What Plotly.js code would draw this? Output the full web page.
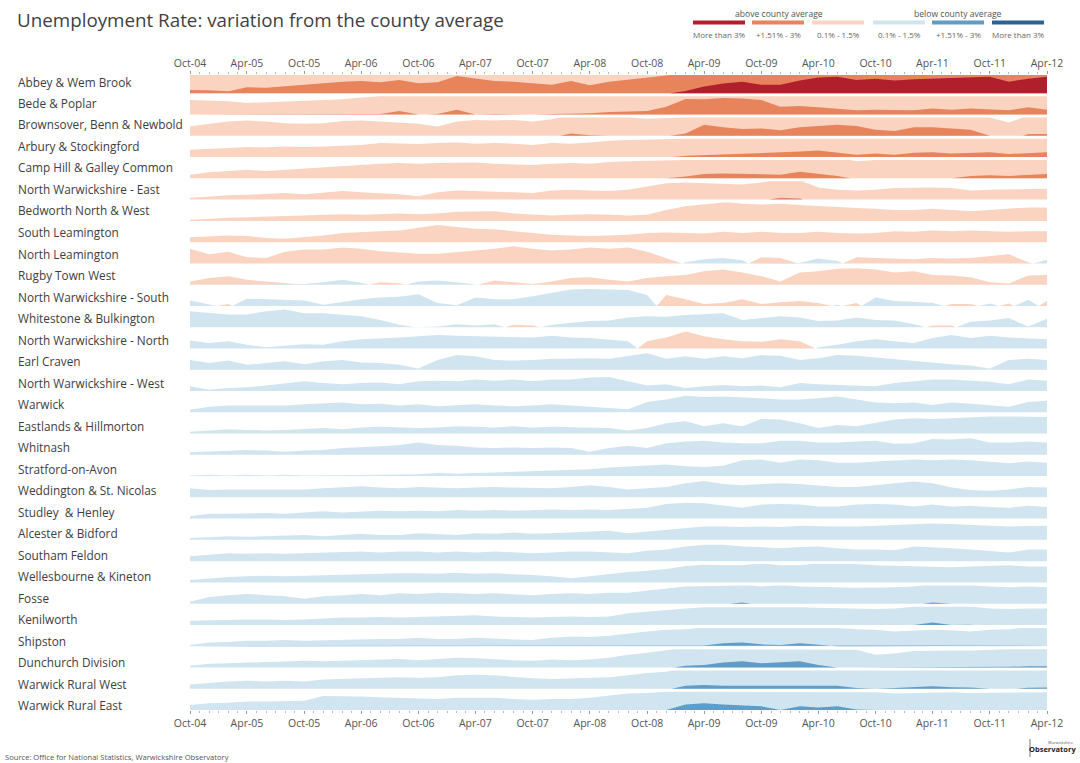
<!DOCTYPE html>
<html><head><meta charset="utf-8">
<script src="https://cdn.plot.ly/plotly-3.0.1.min.js"></script>
<style>html,body{margin:0;padding:0;background:#fff;}#chart{width:1080px;height:763px;}</style>
</head><body><div id="chart"></div>
<script>
// Sample dates (every second month)
const periods = ['2004-10-01','2004-12-01','2005-02-01','2005-04-01','2005-06-01','2005-08-01','2005-10-01','2005-12-01','2006-02-01','2006-04-01','2006-06-01','2006-08-01','2006-10-01','2006-12-01','2007-02-01','2007-04-01','2007-06-01','2007-08-01','2007-10-01','2007-12-01','2008-02-01','2008-04-01','2008-06-01','2008-08-01','2008-10-01','2008-12-01','2009-02-01','2009-04-01','2009-06-01','2009-08-01','2009-10-01','2009-12-01','2010-02-01','2010-04-01','2010-06-01','2010-08-01','2010-10-01','2010-12-01','2011-02-01','2011-04-01','2011-06-01','2011-08-01','2011-10-01','2011-12-01','2012-02-01','2012-04-01'];

const wards = ['Abbey & Wem Brook','Bede & Poplar','Brownsover, Benn & Newbold','Arbury & Stockingford','Camp Hill & Galley Common','North Warwickshire - East','Bedworth North & West','South Leamington','North Leamington','Rugby Town West','North Warwickshire - South','Whitestone & Bulkington','North Warwickshire - North','Earl Craven','North Warwickshire - West','Warwick','Eastlands & Hillmorton','Whitnash','Stratford-on-Avon','Weddington & St. Nicolas','Studley  & Henley','Alcester & Bidford','Southam Feldon','Wellesbourne & Kineton','Fosse','Kenilworth','Shipston','Dunchurch Division','Warwick Rural West','Warwick Rural East'];

// Variation from county average, percentage points (positive = above)
const abbey = [1.77,1.75,1.66,1.99,1.96,2.1,2.2,2.32,2.45,2.5,2.4,2.6,2.32,2.4,2.92,2.73,2.5,2.45,2.3,2.2,2.5,2.15,2.45,2.6,2.75,2.95,3.19,3.55,3.8,3.95,3.7,3.7,4.05,4.3,4.35,4.1,4.2,4.05,4.15,4.2,4.3,4.3,4.35,3.95,4.2,4.35];
const bede = [1.2,1.15,1.1,0.95,1.0,1.1,1.15,1.2,1.25,1.4,1.55,1.8,1.45,1.55,1.9,1.5,1.55,1.5,1.5,1.55,1.55,1.6,1.7,1.75,1.8,2.15,2.78,2.75,2.86,2.82,2.7,2.15,2.2,2.1,1.97,1.85,1.9,1.9,1.85,2.0,1.9,2.0,1.95,1.85,2.1,1.9];
const brownsover = [0.76,1.0,1.17,1.25,1.17,1.03,1.0,1.03,1.22,1.25,1.17,1.1,1.0,0.76,1.17,1.3,1.25,1.3,1.17,1.35,1.7,1.55,1.5,1.5,1.4,1.45,1.7,2.4,2.2,2.05,2.1,1.95,2.2,2.3,2.4,2.3,2.0,1.9,2.2,2.2,2.1,2.0,1.5,1.1,1.65,1.65];
const arbury = [0.6,0.65,0.75,0.82,0.8,0.87,0.82,0.87,0.93,1.0,1.15,1.1,1.07,1.15,1.2,1.1,1.15,1.1,1.0,1.15,1.1,1.2,1.35,1.4,1.45,1.45,1.6,1.65,1.75,1.8,1.85,1.9,1.95,2.05,1.9,1.7,1.8,1.7,1.85,1.9,1.8,1.85,1.9,1.75,1.8,1.9];
const campHill = [0.3,0.5,0.6,0.7,0.6,0.7,0.85,0.95,1.0,1.1,1.2,1.25,1.2,1.25,1.25,1.3,1.2,1.15,1.1,1.2,1.25,1.2,1.35,1.4,1.45,1.5,1.65,1.85,1.9,1.85,1.8,1.8,2.05,1.9,1.7,1.4,1.5,1.55,1.5,1.5,1.5,1.7,1.75,1.7,1.8,1.85];
const nwEast = [0.15,0.27,0.35,0.4,0.45,0.55,0.45,0.6,0.7,0.6,0.55,0.45,0.27,0.6,0.75,0.7,0.6,0.55,0.55,0.75,0.8,0.75,0.7,0.8,1.1,1.35,1.4,1.35,1.3,1.25,1.4,1.65,1.6,1.0,0.8,0.75,0.8,0.95,1.0,1.0,0.95,0.75,0.8,0.85,0.9,0.9];
const bedworth = [0.1,0.2,0.25,0.3,0.35,0.4,0.45,0.5,0.55,0.5,0.55,0.6,0.55,0.6,0.75,0.75,0.8,0.6,0.5,0.45,0.5,0.55,0.5,0.45,0.5,0.9,1.2,1.35,1.55,1.4,1.35,1.4,1.3,1.2,1.1,1.05,1.0,0.9,0.9,1.0,0.9,0.8,0.9,1.0,1.1,1.1];
const southLeam = [0.4,0.5,0.55,0.5,0.35,0.27,0.4,0.55,0.75,0.85,0.9,0.95,1.2,1.4,1.25,1.1,1.05,0.9,0.75,0.6,0.55,0.5,0.55,0.6,0.75,0.8,0.75,0.7,0.85,0.75,0.85,0.75,0.75,0.85,0.75,0.7,0.75,0.9,0.85,0.95,0.9,0.95,0.9,0.85,0.9,0.9];
const northLeam = [1.2,0.75,0.95,0.5,0.45,0.95,1.15,1.15,1.3,1.2,1.0,0.9,0.8,0.8,0.9,1.05,1.2,1.4,1.2,1.05,1.15,1.3,1.2,1.3,0.95,0.45,-0.1,-0.35,-0.45,-0.25,0.5,0.45,-0.05,-0.4,-0.2,0.5,0.45,0.45,0.35,0.45,0.4,0.45,0.6,0.75,0.1,-0.3];
const rugbyWest = [0.27,0.55,0.7,0.4,0.27,0.12,-0.05,-0.2,-0.4,-0.15,0.2,0.12,-0.27,-0.35,-0.2,-0.05,0.35,0.2,0.05,0.27,0.55,0.6,0.4,0.27,0.55,0.7,0.8,1.1,1.25,1.0,0.7,0.27,1.0,1.1,1.3,1.35,1.25,1.0,1.1,0.8,0.75,0.6,0.2,0.1,0.75,0.8];
const nwSouth = [-0.45,-0.1,0.15,-0.6,-0.55,-0.55,-0.45,-0.1,-0.35,-0.55,-0.7,-0.75,-0.95,-0.25,-0.05,-0.7,-0.55,-0.55,-0.8,-1.1,-1.35,-1.4,-1.35,-1.3,-0.9,0.9,0.55,0.15,0.25,0.55,0.15,0.3,0.4,0.25,-0.1,0.25,-0.7,-0.4,-0.35,-0.25,0.15,0.15,-0.2,0.2,-0.5,0.4];
const whitestone = [-1.3,-1.15,-1.05,-1.05,-1.3,-1.45,-1.15,-1.15,-1.05,-0.9,-0.6,-0.2,0.05,-0.05,-0.25,-0.15,-0.25,0.2,0.15,-0.2,-0.35,-0.5,-0.55,-0.8,-0.9,-0.85,-1.0,-1.05,-1.15,-0.6,-0.75,-0.9,-0.8,-0.5,-0.55,-0.8,-0.6,-0.55,-0.25,0.15,0.15,-0.45,-0.55,-0.75,-0.05,-0.7];
const nwNorth = [-0.65,-0.45,-0.6,-0.3,-0.1,-0.2,-0.35,-0.3,-0.6,-0.75,-0.8,-0.9,-1.0,-1.1,-1.05,-1.0,-1.0,-0.9,-0.9,-1.05,-0.9,-0.85,-0.75,-0.6,0.6,0.9,1.4,1.0,0.75,0.6,0.55,0.75,0.6,-0.1,-0.3,-0.6,-0.75,-0.6,-0.45,-0.85,-1.1,-0.85,-1.05,-0.9,-0.8,-0.75];
const earlCraven = [-0.8,-0.55,-0.75,-0.4,-0.55,-0.7,-0.45,-0.7,-0.8,-0.6,-0.55,-0.4,-0.1,-0.8,-1.2,-1.1,-0.8,-0.75,-0.8,-0.9,-0.9,-0.95,-0.9,-1.1,-1.35,-0.9,-1.1,-0.9,-1.1,-0.95,-1.2,-1.15,-0.8,-0.95,-1.2,-1.15,-1.0,-0.9,-0.75,-0.6,-0.45,-0.35,-0.1,-0.8,-0.9,-0.8];
const nwWest = [-0.4,-0.1,-0.25,-0.3,-0.45,-0.65,-0.8,-0.65,-0.55,-0.65,-0.7,-0.55,-0.8,-0.85,-0.8,-0.95,-0.85,-0.95,-0.8,-0.95,-0.95,-1.1,-1.15,-0.8,-0.45,-0.55,-0.25,-0.4,-0.5,-0.4,-0.45,-0.3,-0.65,-0.55,-0.5,-0.4,-0.4,-0.65,-0.8,-0.95,-0.95,-0.85,-0.75,-0.55,-0.95,-0.85];
const warwick = [-0.2,-0.45,-0.55,-0.55,-0.5,-0.55,-0.65,-0.75,-0.8,-0.65,-0.7,-0.55,-0.65,-0.5,-0.55,-0.65,-0.55,-0.5,-0.55,-0.65,-0.55,-0.45,-0.4,-0.25,-0.85,-1.05,-1.35,-1.25,-1.3,-1.25,-1.15,-1.05,-1.05,-1.15,-1.3,-1.05,-0.8,-0.75,-0.8,-0.6,-0.8,-0.7,-0.6,-0.45,-0.85,-0.95];
const eastlands = [-0.15,-0.25,-0.35,-0.3,-0.25,-0.3,-0.35,-0.45,-0.35,-0.5,-0.55,-0.5,-0.45,-0.5,-0.6,-0.55,-0.5,-0.6,-0.5,-0.55,-0.5,-0.45,-0.45,-0.25,-0.45,-0.85,-1.0,-0.6,-0.85,-0.6,-1.2,-1.15,-0.85,-0.45,-0.7,-0.6,-0.85,-1.15,-1.25,-1.2,-1.25,-1.35,-1.4,-1.4,-1.4,-1.35];
const whitnash = [-0.2,-0.25,-0.35,-0.4,-0.35,-0.25,-0.35,-0.4,-0.55,-0.6,-0.7,-0.8,-1.0,-0.8,-0.75,-0.6,-0.55,-0.6,-0.55,-0.6,-0.55,-0.25,-0.55,-0.75,-0.55,-0.95,-1.1,-1.15,-1.0,-0.95,-0.95,-1.15,-1.15,-1.0,-1.0,-1.1,-1.15,-0.9,-0.95,-1.3,-1.25,-1.35,-1.0,-1.0,-1.1,-1.0];
const stratford = [-0.05,-0.1,-0.05,-0.1,-0.05,-0.1,-0.05,-0.05,-0.1,-0.05,-0.1,-0.12,-0.15,-0.25,-0.2,-0.25,-0.3,-0.35,-0.37,-0.42,-0.5,-0.55,-0.7,-0.8,-0.85,-0.95,-0.8,-0.75,-0.85,-1.3,-1.35,-1.1,-1.35,-1.3,-1.1,-1.1,-1.2,-1.3,-1.35,-1.3,-1.35,-1.3,-1.2,-1.05,-1.2,-1.1];
const weddington = [-0.75,-0.6,-0.65,-0.65,-0.6,-0.65,-0.65,-0.75,-0.85,-0.9,-0.8,-0.75,-0.85,-0.8,-0.75,-0.8,-0.85,-0.8,-0.75,-0.75,-0.85,-1.0,-0.85,-0.65,-0.75,-0.85,-1.15,-1.35,-1.1,-1.0,-1.1,-1.15,-1.1,-1.0,-0.85,-0.85,-1.0,-1.1,-1.3,-1.15,-0.8,-0.6,-0.55,-0.65,-0.85,-0.8];
const studley = [-0.2,-0.4,-0.4,-0.45,-0.45,-0.4,-0.5,-0.6,-0.5,-0.6,-0.65,-0.6,-0.65,-0.6,-0.7,-0.65,-0.7,-0.65,-0.7,-0.75,-0.7,-0.75,-0.7,-0.8,-0.9,-1.2,-1.3,-1.25,-1.1,-0.9,-1.15,-1.2,-1.15,-1.0,-1.0,-1.15,-1.2,-1.15,-1.0,-1.15,-1.0,-1.05,-0.95,-0.9,-1.05,-0.95];
const alcester = [-0.15,-0.25,-0.3,-0.25,-0.3,-0.3,-0.4,-0.3,-0.4,-0.5,-0.4,-0.4,-0.55,-0.5,-0.4,-0.55,-0.5,-0.6,-0.5,-0.55,-0.6,-0.65,-0.75,-0.55,-0.7,-0.85,-1.0,-1.1,-1.1,-1.05,-1.1,-1.05,-1.15,-1.1,-1.1,-1.1,-1.15,-1.2,-1.3,-1.35,-1.3,-1.2,-1.15,-1.1,-1.15,-1.15];
const southam = [-0.4,-0.5,-0.65,-0.6,-0.65,-0.6,-0.65,-0.7,-0.8,-0.8,-0.7,-0.8,-0.8,-0.7,-0.8,-0.7,-0.8,-0.7,-0.65,-0.7,-0.8,-0.8,-0.7,-0.65,-0.85,-0.95,-1.2,-1.35,-1.35,-1.2,-1.15,-1.05,-1.15,-1.2,-1.05,-0.95,-0.95,-0.9,-1.2,-1.15,-1.05,-0.95,-0.85,-0.7,-0.95,-0.95];
const wellesbourne = [-0.2,-0.35,-0.45,-0.5,-0.55,-0.5,-0.55,-0.6,-0.6,-0.7,-0.7,-0.75,-0.75,-0.7,-0.8,-0.7,-0.75,-0.7,-0.6,-0.5,-0.35,-0.5,-0.7,-0.85,-0.95,-1.1,-1.35,-1.45,-1.4,-1.4,-1.55,-1.4,-1.4,-1.55,-1.52,-1.5,-1.4,-1.35,-1.3,-1.3,-1.25,-1.3,-1.35,-1.4,-1.3,-1.3];
const fosse = [-0.15,-0.55,-0.7,-0.8,-0.7,-0.6,-0.4,-0.6,-0.7,-0.8,-0.7,-0.85,-0.8,-0.9,-0.85,-0.8,-0.85,-0.8,-0.7,-0.8,-0.85,-0.8,-0.9,-0.9,-1.1,-1.25,-1.4,-1.45,-1.45,-1.6,-1.4,-1.55,-1.4,-1.4,-1.35,-1.3,-1.3,-1.35,-1.4,-1.6,-1.45,-1.52,-1.4,-1.35,-1.4,-1.35];
const kenilworth = [-0.35,-0.4,-0.45,-0.45,-0.45,-0.4,-0.45,-0.55,-0.6,-0.6,-0.65,-0.6,-0.65,-0.7,-0.7,-0.8,-0.7,-0.65,-0.6,-0.65,-0.7,-0.65,-0.7,-0.95,-1.1,-1.25,-1.35,-1.45,-1.45,-1.5,-1.55,-1.55,-1.45,-1.4,-1.35,-1.3,-1.3,-1.35,-1.5,-1.7,-1.5,-1.52,-1.35,-1.3,-1.35,-1.35];
const shipston = [-0.1,-0.3,-0.35,-0.45,-0.45,-0.5,-0.45,-0.5,-0.55,-0.55,-0.6,-0.6,-0.7,-0.6,-0.6,-0.7,-0.6,-0.55,-0.5,-0.7,-0.8,-0.75,-0.85,-1.05,-1.2,-1.35,-1.4,-1.55,-1.75,-1.8,-1.65,-1.6,-1.75,-1.65,-1.5,-1.4,-1.35,-1.2,-1.3,-1.35,-1.3,-1.2,-1.35,-1.4,-1.55,-1.55];
const dunchurch = [-0.15,-0.3,-0.35,-0.4,-0.5,-0.5,-0.55,-0.5,-0.55,-0.6,-0.65,-0.7,-0.6,-0.7,-0.8,-0.75,-0.65,-0.6,-0.55,-0.65,-0.6,-0.65,-0.8,-1.05,-1.2,-1.4,-1.65,-1.7,-1.9,-2.0,-1.85,-1.9,-2.0,-1.7,-1.5,-1.45,-1.05,-1.15,-1.35,-1.4,-1.4,-1.4,-1.45,-1.55,-1.6,-1.6];
const ruralWest = [-0.35,-0.5,-0.6,-0.65,-0.6,-0.65,-0.6,-0.75,-0.8,-0.85,-0.9,-0.95,-0.9,-0.95,-1.1,-1.15,-1.1,-0.95,-0.85,-0.8,-0.85,-0.9,-0.95,-1.1,-1.3,-1.4,-1.75,-1.8,-1.75,-1.75,-1.75,-1.75,-1.8,-1.8,-1.75,-1.55,-1.5,-1.55,-1.62,-1.7,-1.62,-1.6,-1.5,-1.45,-1.58,-1.6];
const ruralEast = [-0.4,-0.55,-0.6,-0.7,-0.7,-0.75,-0.75,-1.15,-1.15,-1.1,-1.05,-1.0,-1.0,-0.9,-1.0,-1.0,-1.0,-0.9,-0.85,-0.9,-0.9,-1.0,-1.15,-1.35,-1.4,-1.5,-1.95,-2.05,-1.95,-1.85,-1.8,-1.5,-1.8,-1.7,-1.8,-1.55,-1.45,-1.35,-1.4,-1.45,-1.45,-1.4,-1.4,-1.45,-1.45,-1.45];

const series = [abbey,bede,brownsover,arbury,campHill,nwEast,bedworth,southLeam,northLeam,rugbyWest,nwSouth,whitestone,nwNorth,earlCraven,nwWest,warwick,eastlands,whitnash,stratford,weddington,studley,alcester,southam,wellesbourne,fosse,kenilworth,shipston,dunchurch,ruralWest,ruralEast];

const legendHeads = ['above county average','below county average'];
const legendLabels = ['More than 3%','+1.51% - 3%','0.1% - 1.5%','0.1% - 1.5%','+1.51% - 3%','More than 3%'];

const COL = {
  posDark:'#b11f2d', posMid:'#e8845c', posLight:'#fad4c1',
  negLight:'#d1e5f0', negMid:'#5f9cc8', negDark:'#2b6494'
};
const BAND = 1.5, H = 0.86;
const tms = periods.map(s => new Date(s + 'T00:00:00Z').getTime());

function densify(vals){
  const xs=[], vs=[], T=[-3,-1.5,0,1.5,3];
  for(let k=0;k<vals.length;k++){
    xs.push(tms[k]); vs.push(vals[k]);
    if(k<vals.length-1){
      const v0=vals[k], v1=vals[k+1], cr=[];
      T.forEach(t=>{ if((v0-t)*(v1-t)<0) cr.push((t-v0)/(v1-v0)); });
      cr.sort((a,b)=>a-b);
      cr.forEach(r=>{ xs.push(tms[k]+r*(tms[k+1]-tms[k])); vs.push(v0+r*(v1-v0)); });
    }
  }
  return {xs, vs};
}

const bandDefs = [
  {s:1,lo:0,c:COL.posLight},{s:-1,lo:0,c:COL.negLight},
  {s:1,lo:1.5,c:COL.posMid},{s:-1,lo:1.5,c:COL.negMid},
  {s:1,lo:3,c:COL.posDark},{s:-1,lo:3,c:COL.negDark}
];

const traces = [];
series.forEach((vals,i)=>{
  const base = -(i+1);
  const d = densify(vals);
  bandDefs.forEach(b=>{
    const fr = d.vs.map(v=>Math.max(0,Math.min(1,(b.s*v-b.lo)/BAND)));
    if(fr.every(f=>f===0)) return;
    const top = fr.map(f=>base+f*H);
    traces.push({
      type:'scatter', mode:'lines',
      x: d.xs.concat(d.xs.slice().reverse()),
      y: top.concat(d.xs.map(()=>base)),
      fill:'toself', fillcolor:b.c, line:{width:0, color:b.c},
      hoverinfo:'skip', showlegend:false
    });
  });
});
// anchor trace for the top axis
traces.push({type:'scatter', mode:'markers', x:[tms[0], tms[tms.length-1]], y:[-30,-30], xaxis:'x2', marker:{opacity:0}, hoverinfo:'skip', showlegend:false});

const L=190, R=1047, T0=75, B0=710;
const px = x => (x-L)/(R-L);
const py = y => 1 - (y-T0)/(B0-T0);
const FONT = 'Open Sans, Noto Sans, sans-serif';

const annotations = [];
wards.forEach((w,i)=>{
  annotations.push({text:w, xref:'paper', yref:'paper', x:px(16), y:py(81.5+21.5*i), xanchor:'left', yanchor:'middle', showarrow:false, font:{family:FONT, size:11.8, color:'#3d3d3d'}});
});
annotations.push({text:legendHeads[0], xref:'paper', yref:'paper', x:px(779), y:py(13.5), xanchor:'center', yanchor:'middle', showarrow:false, font:{family:FONT, size:8.6, color:'#555'}});
annotations.push({text:legendHeads[1], xref:'paper', yref:'paper', x:px(958), y:py(13.5), xanchor:'center', yanchor:'middle', showarrow:false, font:{family:FONT, size:8.6, color:'#555'}});
const legX = [693,752,812,873,932,992];
const legC = [COL.posDark,COL.posMid,COL.posLight,COL.negLight,COL.negMid,COL.negDark];
const shapes = [];
legX.forEach((x,j)=>{
  shapes.push({type:'rect', xref:'paper', yref:'paper', x0:px(x), x1:px(x+52), y0:py(24.5), y1:py(20.5), fillcolor:legC[j], line:{width:0}});
  annotations.push({text:legendLabels[j], xref:'paper', yref:'paper', x:px(x+26), y:py(34), xanchor:'center', yanchor:'middle', showarrow:false, font:{family:FONT, size:8, color:'#666'}});
});
annotations.push({text:'Source: Office for National Statistics, Warwickshire Observatory', xref:'paper', yref:'paper', x:px(3), y:py(757), xanchor:'left', yanchor:'middle', showarrow:false, font:{family:FONT, size:7.6, color:'#555'}});
annotations.push({text:'Warwickshire', xref:'paper', yref:'paper', x:px(1076), y:py(742), xanchor:'right', yanchor:'middle', showarrow:false, font:{family:FONT, size:4, color:'#555'}});
annotations.push({text:'<b>Observatory</b>', xref:'paper', yref:'paper', x:px(1078), y:py(749), xanchor:'right', yanchor:'middle', showarrow:false, font:{family:FONT, size:7.5, color:'#222'}});
shapes.push({type:'line', xref:'paper', yref:'paper', x0:px(1030), x1:px(1030), y0:py(739), y1:py(757), line:{color:'#777', width:1}});

const axisCommon = {
  type:'date', range:[periods[0], periods[periods.length-1]],
  tick0:periods[0], dtick:'M6', tickformat:'%b-%y',
  ticks:'outside', ticklen:3, tickwidth:1, tickcolor:'#999',
  minor:{dtick:'M1', ticks:'outside', ticklen:2, tickcolor:'#bbb', showgrid:false},
  showgrid:false, zeroline:false, showline:false,
  tickfont:{family:FONT, size:10.5, color:'#555'}, fixedrange:true
};

const layout = {
  width:1080, height:763,
  margin:{l:L, r:1080-R, t:T0, b:763-B0, pad:0},
  paper_bgcolor:'#fff', plot_bgcolor:'#fff',
  title:{text:'Unemployment Rate: variation from the county average', x:17/1080, xanchor:'left', y:1-20/763, yanchor:'middle', font:{family:FONT, size:18.8, color:'#3f3f3f'}},
  xaxis: Object.assign({}, axisCommon, {side:'bottom'}),
  xaxis2: Object.assign({}, axisCommon, {side:'top', overlaying:'x', matches:'x'}),
  yaxis:{range:[-30,-0.14], visible:false, fixedrange:true},
  showlegend:false,
  annotations, shapes
};

Plotly.newPlot('chart', traces, layout, {displayModeBar:false, staticPlot:true});
</script>
</body></html>
